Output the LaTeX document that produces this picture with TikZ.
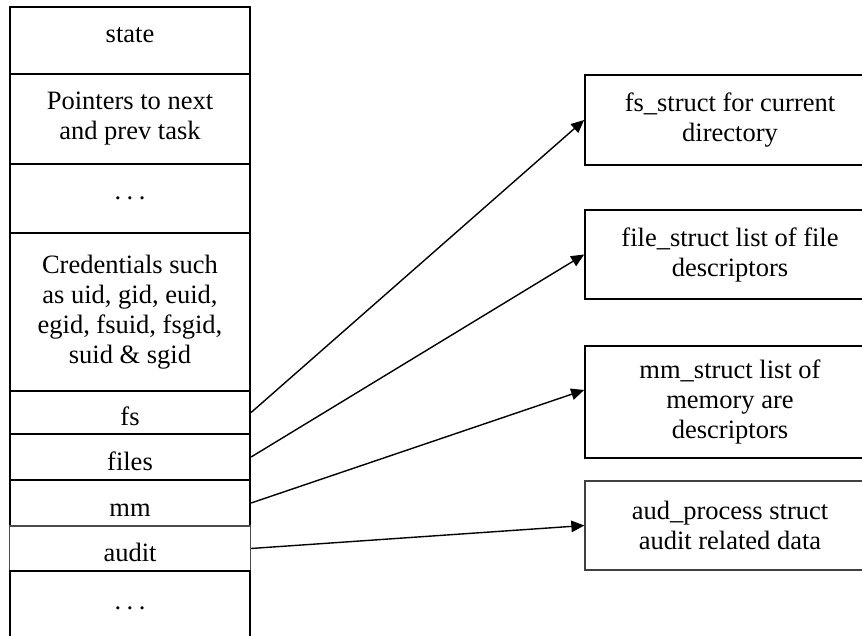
\documentclass[tikz,border=0pt]{standalone}
\usepackage{fontspec}
\setmainfont{Liberation Serif}
\usetikzlibrary{arrows.meta}
% spaced ellipsis used in the task_struct column
\newcommand\rowdots{.\kern5.5pt.\kern5.5pt.}
\begin{document}
\begin{tikzpicture}[x=1pt,y=-1pt,
  txt/.style={font=\fontsize{26.5}{30}\selectfont, align=center},
  cellbox/.style={txt, draw, line width=1.7pt, minimum width=240.5pt,
    minimum height=#1, inner sep=0pt},
  lowtext/.style={text height=26pt, text depth=0pt},
  faintcell/.style={cellbox=#1, draw=black!70, line width=1.3pt},
  rbox/.style={txt, draw, line width=1.7pt, minimum width=290pt,
    minimum height=#1, inner sep=0pt},
  faintrbox/.style={rbox=#1, draw=black!75, line width=1.3pt},
  ptr/.style={-{Triangle[length=13pt,width=11.5pt]}, line width=1.4pt}]
\useasboundingbox (0,0) rectangle (862,636);
\clip (0,0) rectangle (862,636);

% task_struct fields, top to bottom
\node[cellbox=67pt, text height=16pt, text depth=11pt] (state) at (130,40.5) {state};
\node[cellbox=90pt]  (ptrs)  at (130,119)   {Pointers to next\\and prev task};
\node[cellbox=69pt]  (dotsa) at (130,198.5) {\rowdots};
\node[cellbox=158pt] (cred)  at (130,312)   {Credentials such\\as uid, gid, euid,\\egid, fsuid, fsgid,\\suid \& sgid};
\node[cellbox=43pt, lowtext]  (fs)    at (130,412.5) {fs};
\node[cellbox=46pt, lowtext]  (files) at (130,457)   {files};
\node[cellbox=46pt, lowtext]  (mm)    at (130,503)   {mm};
\node[faintcell=45pt, lowtext] (audit) at (130,548.5) {audit};
\node[cellbox=74pt]  (dotsb) at (130,608)   {\rowdots};

% referenced structures
\node[rbox=90pt]  (fsb)   at (730,120)   {fs\_struct for current\\directory};
\node[rbox=89pt]  (fileb) at (730,254.5) {file\_struct list of file\\descriptors};
\node[rbox=112pt] (mmb)   at (730,402)   {mm\_struct list of\\memory are\\descriptors};
\node[faintrbox=89pt] (audb) at (730,525.5) {aud\_process struct\\audit related data};

% pointers
\draw[ptr] (fs.east)    -- (fsb.west);
\draw[ptr] (files.east) -- (fileb.west);
\draw[ptr] (mm.east)    -- ([yshift=12pt]mmb.west);
\draw[ptr] (audit.east) -- (audb.west);
\end{tikzpicture}
\end{document}
